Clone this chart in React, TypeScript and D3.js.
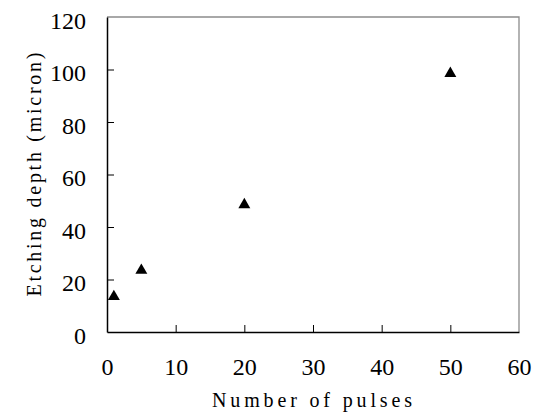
import React, { useEffect, useRef } from "react";
import * as d3 from "d3";

const pulses = [1, 5, 20, 50];
const depths = [13.5, 23.5, 48.5, 98.5];
const xTicks = [0, 10, 20, 30, 40, 50, 60];
const yTicks = [0, 20, 40, 60, 80, 100, 120];
const xLabel = "Number of pulses";
const yLabel = "Etching depth (micron)";

const W = 539, H = 417;
const M = { left: 107, right: 20, top: 17, bottom: 85 };
const FONT = "'Liberation Serif', 'DejaVu Serif', serif";

export default function App() {
  const ref = useRef<SVGSVGElement>(null);
  useEffect(() => {
    const svg = d3.select(ref.current);
    svg.selectAll("*").remove();
    const x = d3.scaleLinear().domain([0, 60]).range([M.left, W - M.right]);
    const y = d3.scaleLinear().domain([0, 120]).range([H - M.bottom, M.top]);

    // plot border (gray top/right)
    svg.append("path")
      .attr("d", `M${x(0)},${y(120)}H${x(60)}V${y(0)}`)
      .attr("fill", "none").attr("stroke", "#8c8c8c").attr("stroke-width", 1.3);

    // axes
    const xAxis = d3.axisBottom(x).tickValues(xTicks).tickSize(-7).tickPadding(27).tickSizeOuter(0);
    const gx = svg.append("g").attr("transform", `translate(0,${y(0)})`).call(xAxis);
    const yAxis = d3.axisLeft(y).tickValues(yTicks).tickSize(-7).tickPadding(21).tickSizeOuter(0);
    const gy = svg.append("g").attr("transform", `translate(${x(0)},0)`).call(yAxis);
    [gx, gy].forEach(g => {
      g.select(".domain").attr("stroke", "#000").attr("stroke-width", 1.5);
      g.selectAll(".tick line").attr("stroke", "#000").attr("stroke-width", 1);
      g.selectAll(".tick text").attr("font-family", FONT).attr("font-size", 24).attr("fill", "#000");
    });
    gx.selectAll(".tick text").attr("dy", 0).attr("y", 43);
    gy.selectAll(".tick text").attr("dy", 11);
    gx.selectAll(".tick").filter((d: any) => d === 0 || d === 60).select("line").remove();
    gy.selectAll(".tick").filter((d: any) => d === 0 || d === 120).select("line").remove();

    // points
    const tri = d3.symbol().type(d3.symbolTriangle).size(62);
    svg.append("g").selectAll("path").data(pulses.map((p, i) => [p, depths[i]]))
      .join("path")
      .attr("transform", d => `translate(${x(d[0])},${y(d[1])})`)
      .attr("d", tri()).attr("fill", "#000");

    // labels
    svg.append("text").attr("x", 212).attr("y", 407)
      .attr("font-family", FONT).attr("font-size", 20)
      .attr("textLength", 200).attr("lengthAdjust", "spacing")
      .text(xLabel);
    const yc = (y(0) + y(120)) / 2;
    svg.append("text")
      .attr("transform", `translate(41,${yc + 122}) rotate(-90)`)
      .attr("font-family", FONT).attr("font-size", 20)
      .attr("textLength", 244).attr("lengthAdjust", "spacing")
      .text(yLabel);
  }, []);
  return (
    <svg ref={ref} width={W} height={H} style={{ position: "absolute", left: 0, top: 0, background: "#fff" }} />
  );
}
